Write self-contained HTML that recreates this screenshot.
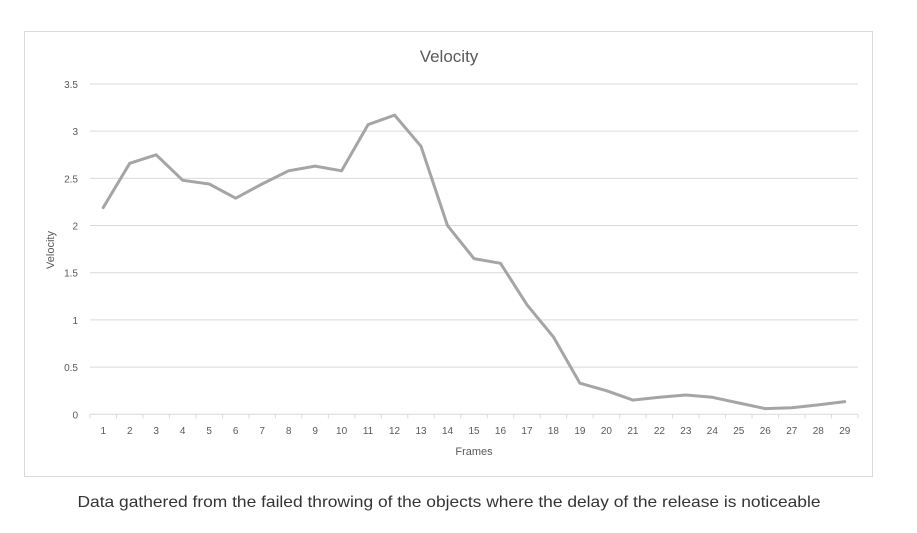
<!DOCTYPE html>
<html><head><meta charset="utf-8"><style>
html,body{margin:0;padding:0;background:#fff;}
svg{display:block;font-family:"Liberation Sans",sans-serif;}
</style></head><body>
<svg id="chart" width="917" height="533" viewBox="0 0 917 533" xmlns="http://www.w3.org/2000/svg">
<rect x="24.5" y="31.5" width="848" height="445" fill="#fff" stroke="#d9d9d9" stroke-width="1"/>
<text x="449" y="62" text-anchor="middle" font-size="17" fill="#595959">Velocity</text>
<g id="grid"></g>
<g id="yticks"></g>
<g id="xaxis"></g>
<text transform="translate(54,250) rotate(-90)" text-anchor="middle" font-size="11" fill="#595959">Velocity</text>
<text x="474" y="455" text-anchor="middle" font-size="11" fill="#595959">Frames</text>
<g id="series"></g>
<text x="449" y="507" text-anchor="middle" font-size="16" fill="#333" textLength="743" lengthAdjust="spacingAndGlyphs">Data gathered from the failed throwing of the objects where the delay of the release is noticeable</text>
</svg>
<script>
const frames = [1,2,3,4,5,6,7,8,9,10,11,12,13,14,15,16,17,18,19,20,21,22,23,24,25,26,27,28,29];
const velocity = [2.19,2.66,2.75,2.48,2.44,2.29,2.44,2.58,2.63,2.58,3.07,3.17,2.84,2.0,1.65,1.60,1.16,0.82,0.33,0.25,0.15,0.18,0.205,0.18,0.12,0.06,0.07,0.10,0.135];
const yTicks = [0,0.5,1,1.5,2,2.5,3,3.5];
const yTickLabels = ["0","0.5","1","1.5","2","2.5","3","3.5"];

const NS = "http://www.w3.org/2000/svg";
const plotL = 90, plotR = 858, plotT = 84, plotB = 414.3, yMax = 3.5;
const step = (plotR - plotL) / frames.length;
function xPos(i){ return plotL + step * (i + 0.5); }
function yPos(v){ return plotB - (v / yMax) * (plotB - plotT); }
function mk(tag, attrs){ const e = document.createElementNS(NS, tag); for (const k in attrs) e.setAttribute(k, attrs[k]); return e; }

const grid = document.getElementById('grid');
const yt = document.getElementById('yticks');
yTicks.forEach((v, i) => {
  if (v !== 0) {
    const l = mk('line', {x1: plotL, x2: plotR, y1: yPos(v), y2: yPos(v), stroke: '#d9d9d9', 'stroke-width': 1});
    
    
    grid.appendChild(l);
  }
  const t = mk('text', {x: 78, y: yPos(v) + 4, 'text-anchor': 'end', 'font-size': 10, fill: '#595959'});
  t.textContent = yTickLabels[i];
  
  
  yt.appendChild(t);
});

const xa = document.getElementById('xaxis');
const axis = mk('line', {x1: plotL, x2: plotR, y1: plotB, y2: plotB, stroke: '#d9d9d9', 'stroke-width': 1});


xa.appendChild(axis);
for (let i = 0; i <= frames.length; i++) {
  const tk = mk('line', {x1: plotL + step * i, x2: plotL + step * i, y1: plotB, y2: plotB + 4, stroke: '#d9d9d9', 'stroke-width': 1});
  
  
  xa.appendChild(tk);
}
frames.forEach((f, i) => {
  const t = mk('text', {x: xPos(i), y: 434, 'text-anchor': 'middle', 'font-size': 10, fill: '#595959'});
  t.textContent = f;
  
  
  xa.appendChild(t);
});

const pts = velocity.map((v, i) => xPos(i).toFixed(1) + ',' + yPos(v).toFixed(1)).join(' ');
const line = mk('polyline', {points: pts, fill: 'none', stroke: '#a5a5a5', 'stroke-width': 3, 'stroke-linejoin': 'round', 'stroke-linecap': 'round'});


document.getElementById('series').appendChild(line);
</script>
</body></html>
